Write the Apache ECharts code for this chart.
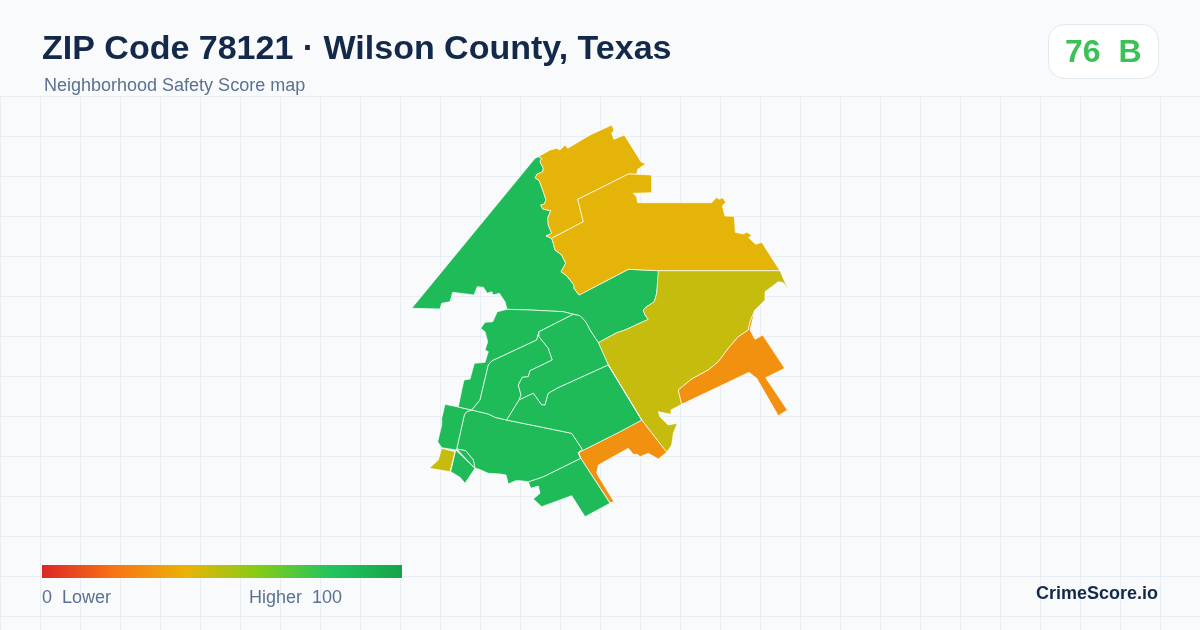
<!DOCTYPE html>
<html>
<head>
<meta charset="utf-8">
<title>ZIP Code 78121</title>
<script src="https://cdn.jsdelivr.net/npm/echarts@6/dist/echarts.min.js"></script>
<style>
html, body { margin: 0; padding: 0; background: #f8fafc; }
#chart { width: 1200px; height: 630px; }
</style>
</head>
<body>
<div id="chart"></div>
<script>
var titleText = 'ZIP Code 78121 · Wilson County, Texas';
var subtitleText = 'Neighborhood Safety Score map';
var scoreText = '76  B';
var brandText = 'CrimeScore.io';
var legendLowText = '0  Lower';
var legendHighText = 'Higher  100';
var scaleColors = ['#dc2626', '#f97316', '#eab308', '#84cc16', '#22c55e', '#16a34a'];

// block group scores
var regionNames = ['a', 'b', 'c', 'd', 'e', 'f', 'g', 'h', 'i', 'j', 'k', 'l', 'm', 'n', 'o'];
var regionScores = [86, 41, 41, 47, 29, 29, 86, 86, 86, 47, 86, 86, 86, 86, 86];

// traced boundaries, map units
var edgeAB = [[538.3,156.7],[541.7,158.3],[540,161.7],[543.3,168.3],[542.7,171.7],[537.3,174],[535,177.7],[539.3,180.7],[543.3,191.7],[546,200],[544.3,204],[540.7,205],[542.7,209],[550.7,210.7],[547.7,218.3],[548.3,225],[551.7,233.3],[546,236],[551.7,238.3]];
var edgeAC = [[551.7,238.3],[553.3,243.3],[555,250],[561.7,255],[565.7,263.3],[561,271.7],[566.7,275.7],[574,285],[574,288.3],[579,295],[590,289.3],[628.3,269.3],[659,270.7]];
var edgeAD = [[659,270.7],[658.3,271],[656.7,293.3],[654.3,301.7],[646.7,306.7],[643.3,310],[645,315],[648.3,319.3],[625,330],[616.7,332.7],[598.3,342.7]];
var edgeAN = [[598.3,342.7],[590,330],[585.7,321.7],[580,315.7],[573.3,314.3]];
var edgeAL = [[573.3,314.3],[563.3,311.7],[530,310],[507,309.3]];
var edgeANorth = [[507,309.3],[505,301.7],[499.3,293.3],[493.3,295],[491.7,291.7],[487.3,293.3],[483.3,287.3],[477.3,286.7],[474,295],[452.7,292.3],[450,301.7],[441.7,303.3],[440,309],[411.7,308.3],[535,158.3]];
var edgeBC = [[551.7,238.3],[583.3,221.7],[577.7,199.3],[600,188.3],[628.3,174],[636.7,174.3]];
var edgeBOuter = [[637.7,169.3],[645.7,164],[641,161.7],[624.3,135],[614,139.3],[611.7,133.3],[614,130],[611.7,125],[590,135],[567.7,148.3],[565,145],[560,150],[556.7,148.3],[550,150],[540,155.7]];
var edgeCOuter = [[651.7,175],[651.7,192.7],[633.3,193.3],[636.7,197.3],[637.7,202.7],[711.7,202.7],[716.7,197.3],[719,199.3],[722.7,197.7],[725.7,202.3],[722.3,206],[725,216],[734.3,216.3],[735.3,232.3],[743.3,234],[746.7,232.3],[751.7,235],[748.7,237.7],[755.7,244.3],[761.7,242.3],[780,270.7]];
var edgeCD = [[780,270.7],[659,270.7]];
var edgeDOuter = [[780,270.7],[788.3,290],[783.3,282.7],[778.3,281.7],[771.7,286.7],[765,291.7],[765,300],[755,310]];
var edgeDE = [[755,310],[750,321.7],[748.3,330],[738.3,336.7],[728.3,348.3],[718.3,361.7],[708.3,370],[691.7,379],[678.3,390],[681.7,404.3]];
var edgeDSouth = [[681.7,404.3],[671,410],[671,414.3],[658.3,411.7],[660,416.7],[668.3,425],[677.3,423.3],[673.3,433.3],[671.7,445],[666.7,452.3]];
var edgeDF = [[666.7,452.3],[641.7,420]];
var edgeDO = [[641.7,420],[608.3,365],[598.3,342.7]];
var edgeEOuter = [[681.7,404.3],[749,372.3],[756.7,378.3],[778.3,415.7],[787.3,410],[765.7,377.7],[784.7,368.3],[762.7,335],[755,339.3],[750,330]];
var edgeFO = [[641.7,420],[620,431.7],[578.3,452.7]];
var edgeFG = [[580.7,458.3],[610,502.7]];
var edgeFOuter = [[614,501.7],[596.7,473.3],[598.3,465],[628.3,448.3],[633.3,454.3],[637.7,454.3],[640,456.7],[648.3,453.3],[658.3,459]];
var edgeGH = [[580.7,458.3],[543.3,476.7],[536.7,479],[528.3,481.7]];
var edgeGOuter = [[528.3,481.7],[530.7,488.3],[538.3,486],[540,493.3],[533.3,499],[541.7,506.7],[571.7,495.7],[585,516.7],[610,503.3]];
var edgeHTop = [[471.7,410],[488.3,414],[495,417.3],[506.7,420]];
var edgeHO = [[506.7,420],[571.7,433.3],[582.3,449.3],[578.3,452.7],[580.7,458.3]];
var edgeHOuter = [[528.3,481.7],[520,480.7],[515.7,480.7],[508.3,484],[506,475],[500,474],[488.3,473.3],[478.3,469],[475,468.3]];
var edgeHI = [[475,468.3],[473.3,460],[465.7,450.7],[456.7,449]];
var edgeHK = [[456.7,449],[464.3,415],[466.7,411.7],[471.7,410]];
var edgeIOuter = [[475,468.3],[465,483.3],[460,477.3],[450.7,471.7],[455.7,450]];
var ringJ = [[441.7,448.3],[455,451.7],[450,471.7],[429.3,468.3],[438.3,460]];
var edgeKOuter = [[455.7,450],[441.7,447.7],[437.7,441.7],[441.7,425],[441.7,418.3],[445,404.3],[458.3,407]];
var edgeLK = [[458.3,407],[471.7,410]];
var edgeLOuter = [[458.3,407],[461.7,390],[464,380],[470,379],[474.3,363.3],[485,362.3],[488.3,351.7],[485,350],[487.7,341.7],[485,331.7],[480.7,328.3],[485,322.3],[492.7,321.7],[497.3,311.7],[507,309.3]];
var edgeLN = [[573.3,314.3],[539,331.7]];
var edgeLM = [[539,331.7],[536.7,340],[491.7,361],[488.3,365],[480,400],[471.7,410]];
var edgeMN = [[539,331.7],[539,336.7],[548.3,348.3],[552.3,360],[530,370.7],[528.3,376.7],[522.3,377.3],[518.3,385],[521,395],[519,400]];
var edgeMO = [[519,400],[506.7,420]];
var edgeNO = [[519,400],[533.3,393.3],[541.7,405],[545,405],[548.3,393.3],[558.3,387.7],[608.3,365]];

function back(edge) {
    return edge.slice().reverse();
}

var regionRings = [
    [].concat(edgeAB, edgeAC, edgeAD, edgeAN, edgeAL, edgeANorth),
    [].concat(edgeAB, edgeBC, edgeBOuter),
    [].concat(edgeBC, edgeCOuter, edgeCD, back(edgeAC)),
    [].concat(back(edgeCD), edgeDOuter, edgeDE, edgeDSouth, edgeDF, edgeDO, back(edgeAD)),
    [].concat(edgeDE, edgeEOuter),
    [].concat(edgeDF, edgeFO, edgeFG, edgeFOuter),
    [].concat(edgeGH, edgeGOuter, back(edgeFG)),
    [].concat(edgeHTop, edgeHO, edgeGH, edgeHOuter, edgeHI, edgeHK),
    [].concat(edgeHI, edgeIOuter),
    ringJ,
    [].concat(edgeIOuter.slice(-1), edgeKOuter, edgeLK, back(edgeHK)),
    [].concat(edgeLOuter, back(edgeAL), edgeLN, edgeLM, back(edgeLK)),
    [].concat(edgeLM, edgeHTop, back(edgeMO), back(edgeMN)),
    [].concat(back(edgeLN), back(edgeAN), back(edgeDO).slice(0, 2), back(edgeNO), back(edgeMN)),
    [].concat(edgeNO, back(edgeDO).slice(1).reverse(), edgeFO, back(edgeHO), edgeMO.slice().reverse())
];

var geoJson = {
    type: 'FeatureCollection',
    features: regionNames.map(function(name, i) {
        return {
            type: 'Feature',
            properties: {name: name},
            geometry: {type: 'Polygon', coordinates: [regionRings[i]]}
        };
    })
};
echarts.registerMap('zip78121', geoJson);

var xs = [], ys = [];
regionRings.forEach(function(ring) {
    ring.forEach(function(p) {
        xs.push(p[0]);
        ys.push(p[1]);
    });
});
var minX = Math.min.apply(null, xs), maxX = Math.max.apply(null, xs);
var minY = Math.min.apply(null, ys), maxY = Math.max.apply(null, ys);

function gridLines() {
    var lines = [], x, y;
    for (x = 0; x <= 1200; x += 40) {
        lines.push({type: 'line', z: -10, silent: true, shape: {x1: x + 0.5, y1: 97, x2: x + 0.5, y2: 630},
            style: {stroke: '#e8eff4', lineWidth: 1}});
    }
    for (y = 96; y <= 630; y += 40) {
        lines.push({type: 'line', z: -10, silent: true, shape: {x1: 0, y1: y + 0.5, x2: 1200, y2: y + 0.5},
            style: {stroke: '#e8eff4', lineWidth: 1}});
    }
    return lines;
}

function text(x, y, str, font, color, align) {
    return {type: 'text', x: x, y: y, z: 10, silent: true,
        style: {text: str, font: font, fill: color, align: align || 'left', verticalAlign: 'middle'}};
}

// the colour scale bar, square ended so drawn here and not by visualMap
var barStops = scaleColors.map(function(c, i) {
    return {offset: i / (scaleColors.length - 1), color: c};
});

var _chart = echarts.init(document.getElementById('chart'), null, {renderer: 'canvas'});
_chart.setOption({
    animation: false,
    backgroundColor: '#f8fafc',
    tooltip: {show: false},
    visualMap: {
        type: 'continuous',
        show: false,
        seriesIndex: 0,
        min: 0,
        max: 100,
        inRange: {color: scaleColors}
    },
    series: [{
        type: 'map',
        map: 'zip78121',
        projection: {
            project: function(p) { return p; },
            unproject: function(p) { return p; }
        },
        aspectScale: 1,
        left: minX,
        top: minY,
        width: maxX - minX,
        height: maxY - minY,
        roam: false,
        silent: true,
        selectedMode: false,
        label: {show: false},
        emphasis: {disabled: true},
        itemStyle: {borderColor: '#ffffff', borderWidth: 0.7, opacity: 1},
        data: regionNames.map(function(name, i) {
            return {name: name, value: regionScores[i]};
        })
    }],
    graphic: gridLines().concat([
        text(42, 50, titleText, 'bold 34px "Liberation Sans"', '#14294a'),
        text(44, 86, subtitleText, '18px "Liberation Sans"', '#5b7190'),
        {type: 'rect', z: 9, silent: true, shape: {x: 1048.5, y: 24.5, width: 110, height: 54, r: 16},
            style: {fill: '#ffffff', stroke: '#e2e8f0', lineWidth: 1}},
        text(1065, 53, scoreText, 'bold 32px "Liberation Sans"', '#3bc157'),
        {type: 'rect', z: 9, silent: true, shape: {x: 42, y: 565, width: 360, height: 13},
            style: {fill: new echarts.graphic.LinearGradient(0, 0, 1, 0, barStops)}},
        text(42, 598, legendLowText, '18px "Liberation Sans"', '#5b7190'),
        text(249, 598, legendHighText, '18px "Liberation Sans"', '#5b7190'),
        text(1158, 594, brandText, 'bold 18px "Liberation Sans"', '#14294a', 'right')
    ])
});
</script>
</body>
</html>
